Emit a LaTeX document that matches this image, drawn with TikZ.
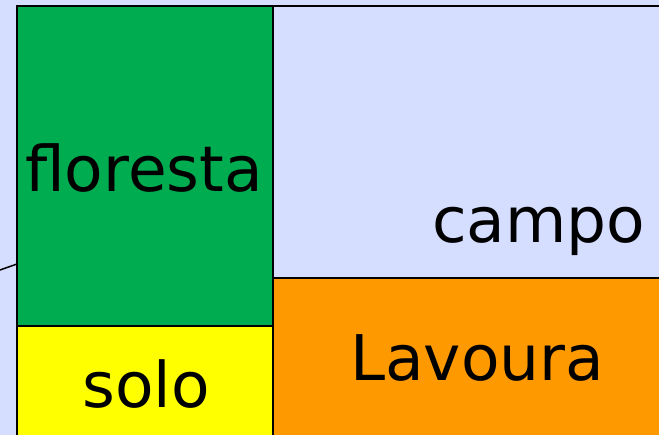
\documentclass[tikz,border=0pt]{standalone}
\usepackage{fontspec}
\setmainfont{DejaVu Sans}
\definecolor{bgc}{HTML}{D6DEFF}
\definecolor{greenc}{HTML}{00AC50}
\definecolor{yellowc}{HTML}{FFFF00}
\definecolor{orangec}{HTML}{FF9900}
\tikzset{
  region/.style={draw=black, line width=2pt, inner sep=0pt, outer sep=0pt},
  label text/.style={font=\fontsize{63}{63}\selectfont, inner sep=0pt, anchor=base west, text=black},
}
\begin{document}
\begin{tikzpicture}[x=1pt,y=-1pt]
\path[use as bounding box, fill=bgc] (0,0) rectangle (659,435);
\begin{scope}
\clip (0,0) rectangle (659,435);
\node[region, fill=bgc, minimum width=400pt, minimum height=272pt, anchor=north west] (campo) at (273,6) {};
\node[region, fill=orangec, minimum width=400pt, minimum height=170pt, anchor=north west] (lavoura) at (273,278) {};
\node[region, fill=greenc, minimum width=256pt, minimum height=320pt, anchor=north west] (floresta) at (17,6) {};
\node[region, fill=yellowc, minimum width=256pt, minimum height=130pt, anchor=north west] (solo) at (17,326) {};
\coordinate (lineend) at (0,270);
\draw[line width=1.5pt] (lineend) -- (floresta.west |- 0,264);
\end{scope}
\node[label text] (tfloresta) at (25,192) {floresta};
\node[label text] (tcampo) at (432,243) {campo};
\node[label text] (tlavoura) at (350,381) {Lavoura};
\node[label text] (tsolo) at (82,408) {solo};
\end{tikzpicture}
\end{document}
